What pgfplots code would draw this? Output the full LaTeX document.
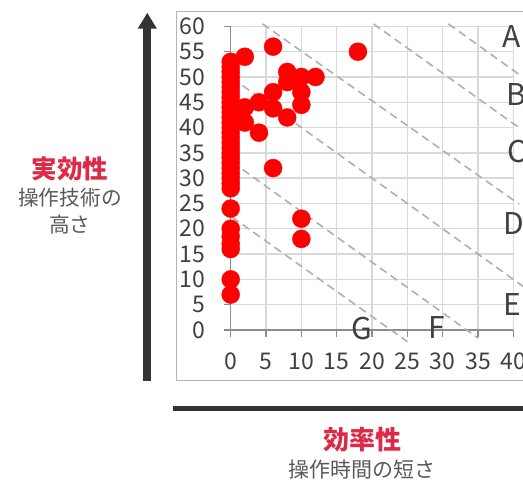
\documentclass[border=0pt]{standalone}
\usepackage{fontspec}
\setmainfont{Noto Sans CJK JP}
\usepackage{pgfplots}
\pgfplotsset{compat=1.18}
\usetikzlibrary{arrows.meta}
\definecolor{tickgray}{HTML}{404040}
\definecolor{axisgray}{HTML}{8C8C8C}
\definecolor{gridgray}{HTML}{D9D9D9}
\definecolor{dashgray}{HTML}{B0B0B0}
\definecolor{boxgray}{HTML}{B4B4B4}
\definecolor{darkbar}{HTML}{333333}
\definecolor{labred}{HTML}{DC2A47}
\definecolor{subgray}{HTML}{595959}
\begin{document}
\begin{tikzpicture}
\useasboundingbox (0,0) rectangle (523pt,480pt);
\clip (0,0) rectangle (523pt,480pt);
% outer chart box
\draw[boxgray, line width=1.3pt] (176.7pt,468.3pt) rectangle (560pt,99.3pt);
% arrows
\draw[darkbar, line width=8pt, -{Triangle[width=18pt,length=16pt]}] (147.3pt,99pt) -- (147.3pt,467.3pt);
\draw[darkbar, line width=4.7pt] (172.7pt,71.7pt) -- (560pt,71.7pt);
% labels
\node[inner sep=0pt, text=labred, font=\bfseries\fontsize{25.5}{28}\selectfont] at (70pt,311.5pt) {実効性};
\node[inner sep=0pt, text=subgray, font=\fontsize{20.7}{24}\selectfont] at (70pt,282pt) {操作技術の};
\node[inner sep=0pt, text=subgray, font=\fontsize{20.7}{24}\selectfont] at (70pt,255pt) {高さ};
\node[inner sep=0pt, text=labred, font=\bfseries\fontsize{26}{28}\selectfont] at (362.5pt,40pt) {効率性};
\node[inner sep=0pt, text=subgray, font=\fontsize{21}{24}\selectfont] at (361.7pt,10pt) {操作時間の短さ};
\begin{axis}[
  at={(230.7pt,150pt)}, anchor=south west,
  scale only axis, width=282.7pt, height=303.6pt,
  xmin=0, xmax=40, ymin=0, ymax=60,
  enlargelimits=false, clip=false,
  axis lines=left,
  axis line style={-, draw=axisgray, line width=1.5pt},
  xtick={0,5,...,40}, ytick={0,5,...,60},
  grid=major, grid style={gridgray, line width=1.4pt},
  tick align=outside, major tick length=7pt,
  tick style={axisgray, line width=1.5pt},
  /pgf/number format/assume math mode=true,
  ticklabel style={font=\fontsize{23}{27}\selectfont, text=tickgray, inner sep=0pt},
  yticklabel style={xshift=-18pt},
  xticklabel style={yshift=-16pt},
]
% diagonal dashed reference lines
\addplot[dashgray, line width=1.6pt, dash pattern=on 8pt off 5pt] coordinates {(-1.3,23.8) (25.0,-2.3)};
\addplot[dashgray, line width=1.6pt, dash pattern=on 8pt off 5pt] coordinates {(-1.3,34.7) (35.0,-1.6)};
\addplot[dashgray, line width=1.6pt, dash pattern=on 8pt off 5pt] coordinates {(-1.3,51.3) (42,8.0)};
\addplot[dashgray, line width=1.6pt, dash pattern=on 8pt off 5pt] coordinates {(4.5,60.5) (40.8,24.9)};
\addplot[dashgray, line width=1.6pt, dash pattern=on 8pt off 5pt] coordinates {(20.2,60.5) (40.9,39.9)};
\addplot[dashgray, line width=1.6pt, dash pattern=on 8pt off 5pt] coordinates {(30.8,60.5) (40.9,50.4)};
% data points
\addplot[only marks, mark=*, mark size=9pt, color=red, fill=red] coordinates {
(0,7) (0,10) (0,16) (0,17) (0,18.5) (0,20) (0,24)
(0,28) (0,29) (0,30) (0,31) (0,32) (0,33) (0,34) (0,35) (0,36) (0,37) (0,38) (0,39)
(0,40) (0,41) (0,42) (0,43) (0,44) (0,45) (0,46) (0,47) (0,48) (0,49) (0,50) (0,51) (0,52) (0,53)
(2,54) (6,56) (18,55)
(8,51) (8,49) (10,50) (12,50) (6,47) (10,47) (10,44.5) (8,42) (6,43.8) (4,45)
(2,44) (2,41) (4,39) (6,32) (10,22) (10,18)
};
% category letters
\node[inner sep=0pt, text=tickgray, font=\fontsize{30}{32}\selectfont] at (axis cs:39.7,58.1) {A};
\node[inner sep=0pt, text=tickgray, font=\fontsize{30}{32}\selectfont] at (axis cs:40.4,46.5) {B};
\node[inner sep=0pt, text=tickgray, font=\fontsize{30}{32}\selectfont] at (axis cs:40.5,35.3) {C};
\node[inner sep=0pt, text=tickgray, font=\fontsize{30}{32}\selectfont] at (axis cs:40.0,21.0) {D};
\node[inner sep=0pt, text=tickgray, font=\fontsize{30}{32}\selectfont] at (axis cs:39.9,5.1) {E};
\node[inner sep=0pt, text=tickgray, font=\fontsize{30}{32}\selectfont] at (axis cs:29.1,0.5) {F};
\node[inner sep=0pt, text=tickgray, font=\fontsize{30}{32}\selectfont] at (axis cs:18.6,0.2) {G};
\end{axis}
\end{tikzpicture}
\end{document}
